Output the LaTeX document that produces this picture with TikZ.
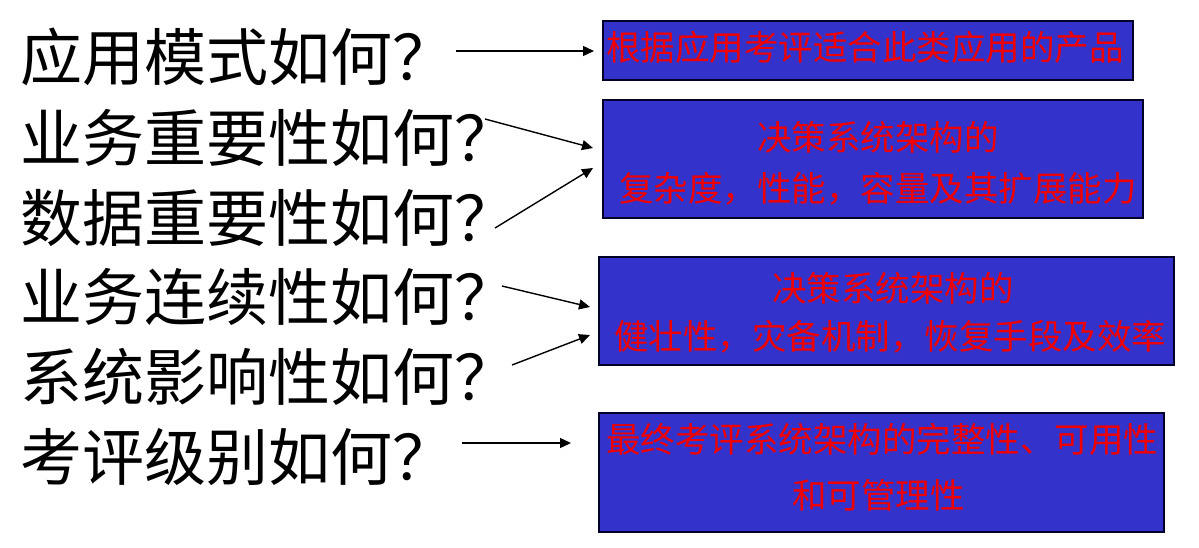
\documentclass[tikz,border=0pt]{standalone}
\usepackage{fontspec}
\newfontfamily\cjk{Noto Sans CJK SC}
\usetikzlibrary{arrows.meta}
\definecolor{boxblue}{RGB}{51,51,204}
\definecolor{boxedge}{RGB}{0,0,40}
\definecolor{boxred}{RGB}{240,0,0}
\tikzset{
  question/.style={anchor=base west,inner sep=0pt,font=\cjk\fontsize{62}{62}\selectfont},
  boxtext/.style={anchor=base west,inner sep=0pt,text=boxred,font=\cjk\fontsize{34.5}{34.5}\selectfont},
  answerbox/.style={draw=boxedge,line width=1.5pt,fill=boxblue,rectangle,inner sep=0pt},
  link/.style={line width=1.4pt,-{Triangle[length=11pt,width=10pt]}}
}
\begin{document}
\begin{tikzpicture}[x=1pt,y=-1pt]
\useasboundingbox (0,0) rectangle (1199,547);
% left questions
\node[question] (q1) at (20,80.5) {应用模式如何？};
\node[question] (q2) at (20,161.5) {业务重要性如何？};
\node[question] (q3) at (20,241.5) {数据重要性如何？};
\node[question] (q4) at (20,320.5) {业务连续性如何？};
\node[question] (q5) at (20,400.5) {系统影响性如何？};
\node[question] (q6) at (20,480.5) {考评级别如何？};
% boxes
\node[answerbox,minimum width=530pt,minimum height=59pt] (b1) at (868,50.5) {};
\node[answerbox,minimum width=540pt,minimum height=118pt] (b2) at (873,159) {};
\node[answerbox,minimum width=575pt,minimum height=108pt] (b3) at (886.5,311) {};
\node[answerbox,minimum width=565pt,minimum height=119pt] (b4) at (881.5,472.5) {};
% box texts
\node[boxtext] (t1) at (606,60) {根据应用考评适合此类应用的产品};
\node[boxtext] (t2a) at (757,150) {决策系统架构的};
\node[boxtext] (t2b) at (619,201) {复杂度，性能，容量及其扩展能力};
\node[boxtext] (t3a) at (772,301) {决策系统架构的};
\node[boxtext] (t3b) at (614,349) {健壮性，灾备机制，恢复手段及效率};
\node[boxtext] (t4a) at (606,452) {最终考评系统架构的完整性、可用性};
\node[boxtext] (t4b) at (792,508) {和可管理性};
% arrow end points
\coordinate (a1s) at (456,51);  \coordinate (a1e) at (594,51);
\coordinate (a2s) at (485,119); \coordinate (a2e) at (593,148);
\coordinate (a3s) at (495,228); \coordinate (a3e) at (593,168);
\coordinate (a4s) at (502,286); \coordinate (a4e) at (590,307);
\coordinate (a5s) at (512,365); \coordinate (a5e) at (590,335);
\coordinate (a6s) at (462,443); \coordinate (a6e) at (571,443);
\draw[link] (a1s) -- (a1e);
\draw[link] (a2s) -- (a2e);
\draw[link] (a3s) -- (a3e);
\draw[link] (a4s) -- (a4e);
\draw[link] (a5s) -- (a5e);
\draw[link] (a6s) -- (a6e);
\end{tikzpicture}
\end{document}
